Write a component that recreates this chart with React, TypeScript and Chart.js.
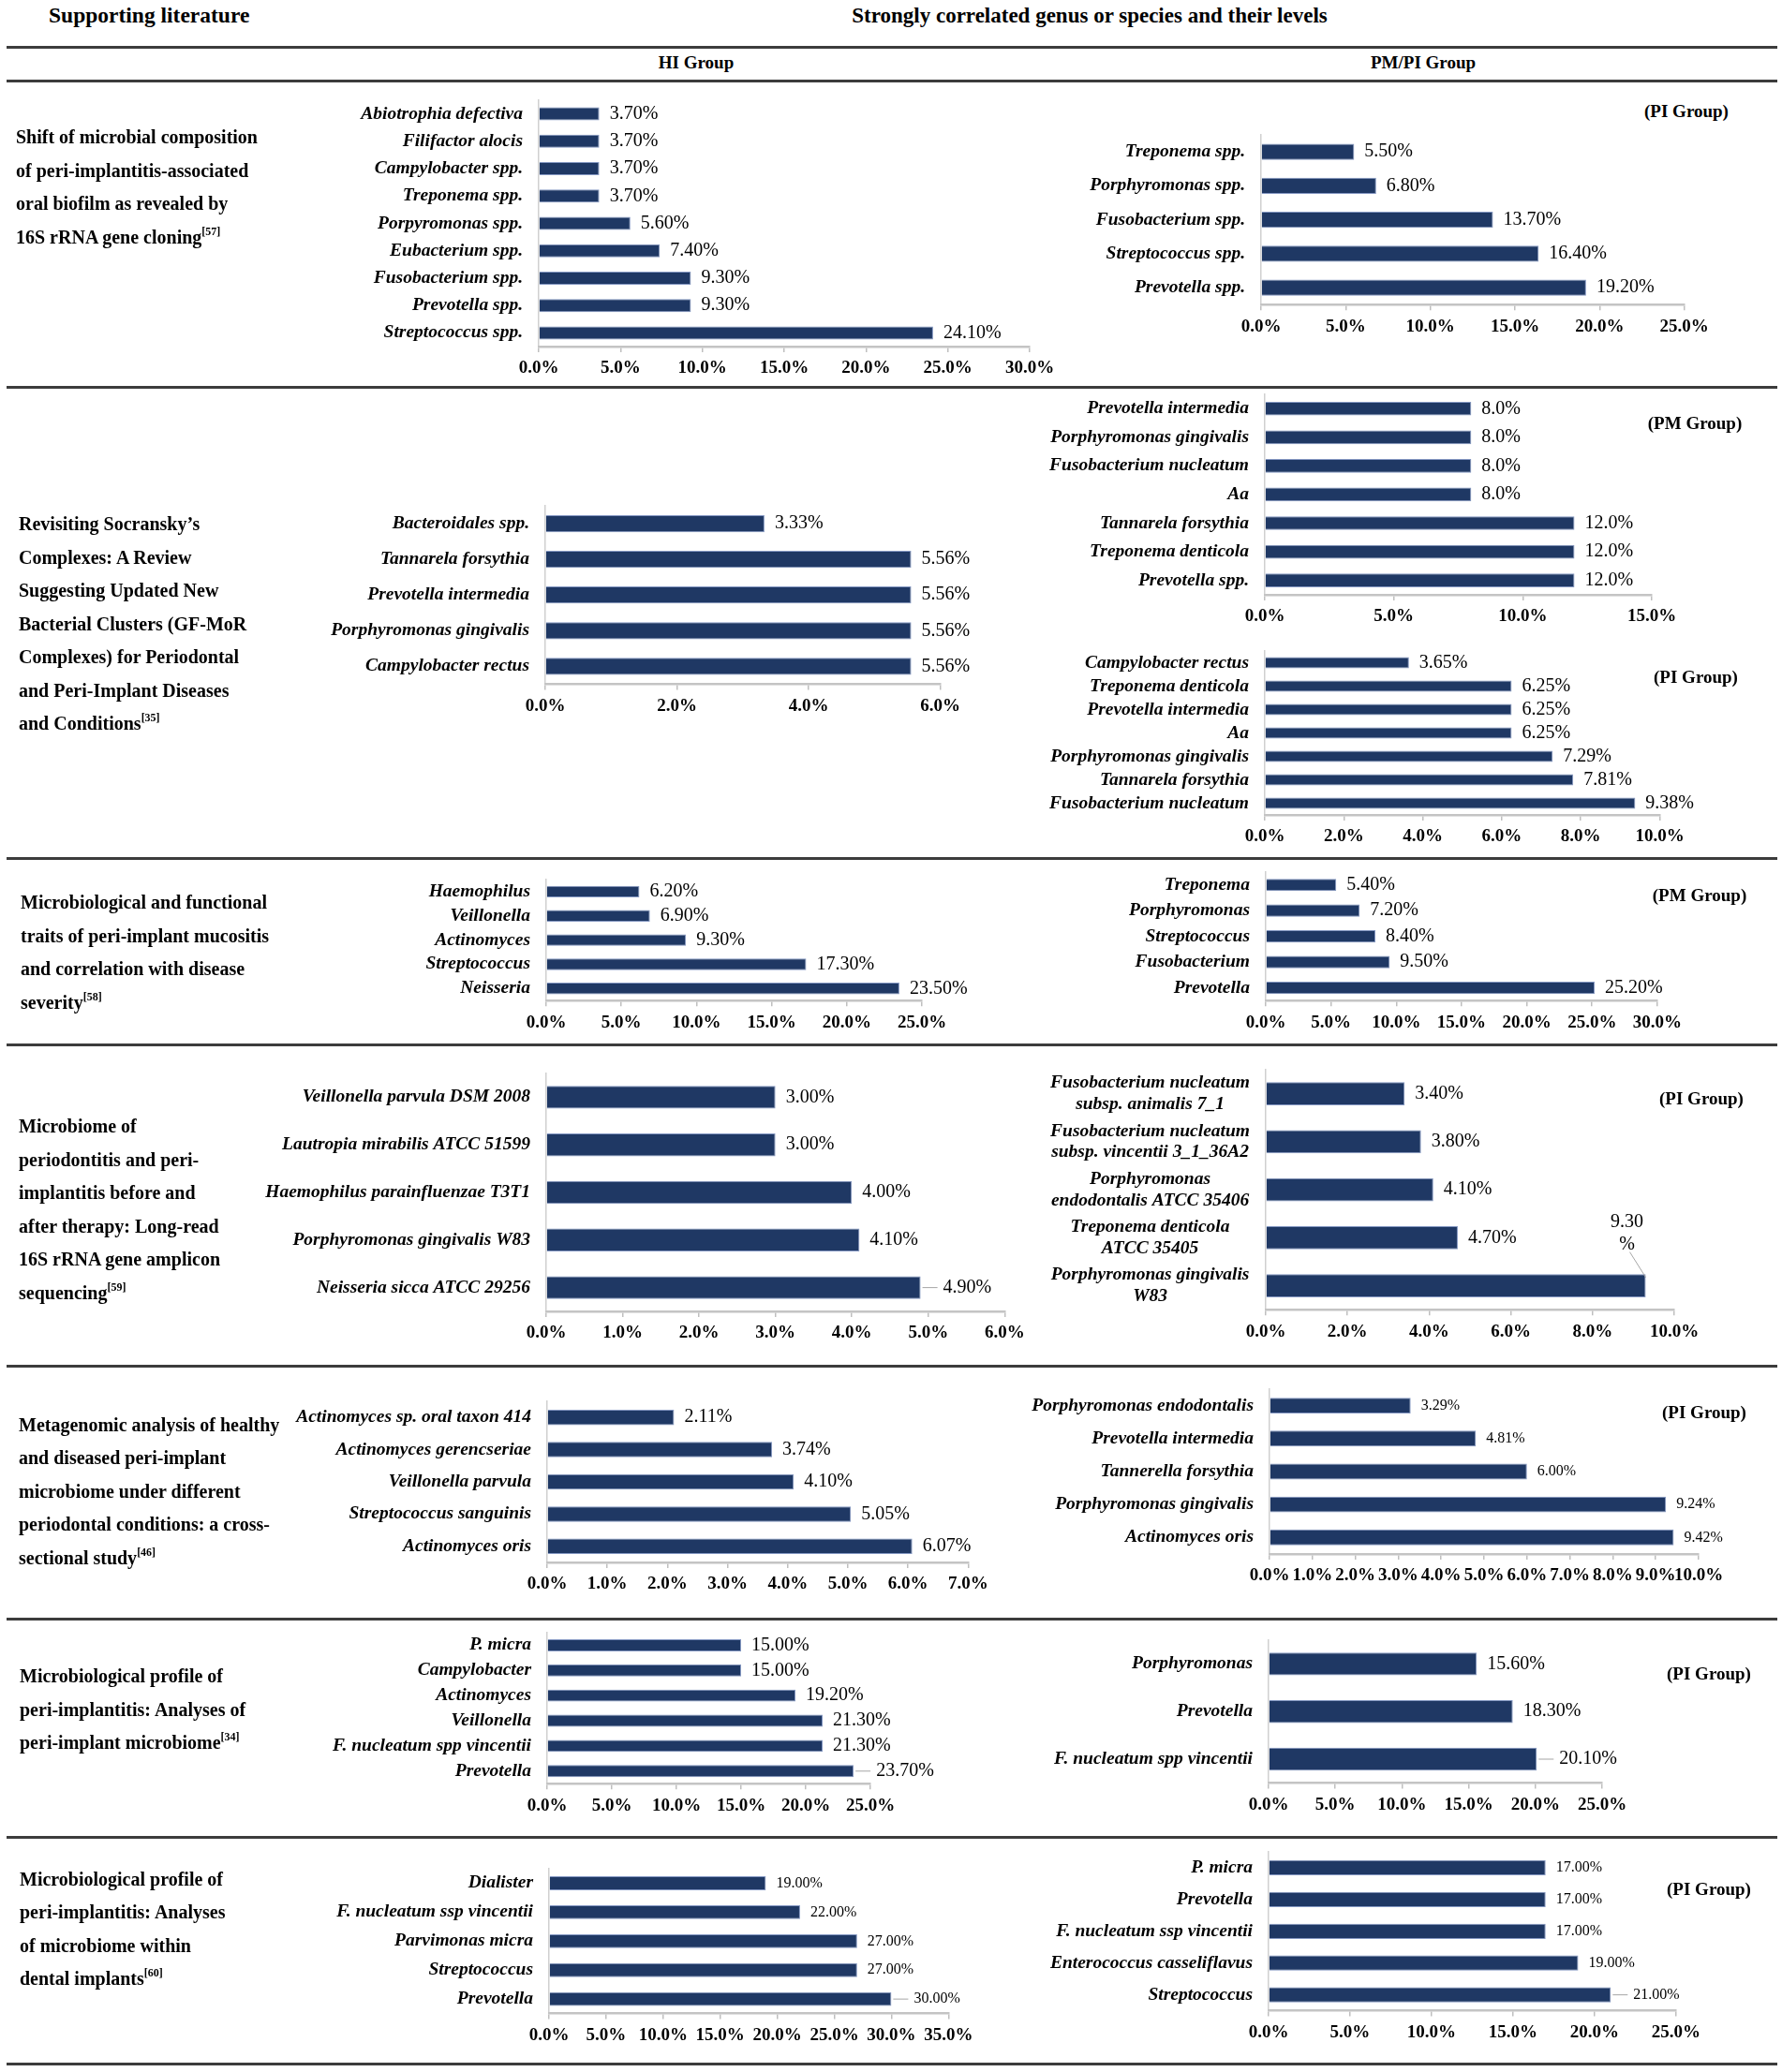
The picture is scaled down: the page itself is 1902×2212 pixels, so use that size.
import React, { useEffect, useRef } from "react";
import { Chart, registerables } from "chart.js";

Chart.register(...registerables);

const FONT = "'Liberation Serif', 'Times New Roman', Times, serif";

// ---------------- DATA ----------------
// Row 1 – 16S rRNA gene cloning
const r1HiLabels = ["Abiotrophia defectiva", "Filifactor alocis", "Campylobacter spp.", "Treponema spp.", "Porpyromonas spp.", "Eubacterium spp.", "Fusobacterium spp.", "Prevotella spp.", "Streptococcus spp."];
const r1HiValues = [3.7, 3.7, 3.7, 3.7, 5.6, 7.4, 9.3, 9.3, 24.1];
const r1PiLabels = ["Treponema spp.", "Porphyromonas spp.", "Fusobacterium spp.", "Streptococcus spp.", "Prevotella spp."];
const r1PiValues = [5.5, 6.8, 13.7, 16.4, 19.2];

// Row 2 – Socransky's complexes
const r2HiLabels = ["Bacteroidales spp.", "Tannarela forsythia", "Prevotella intermedia", "Porphyromonas gingivalis", "Campylobacter rectus"];
const r2HiValues = [3.33, 5.56, 5.56, 5.56, 5.56];
const r2PmLabels = ["Prevotella intermedia", "Porphyromonas gingivalis", "Fusobacterium nucleatum", "Aa", "Tannarela forsythia", "Treponema denticola", "Prevotella spp."];
const r2PmValues = [8, 8, 8, 8, 12, 12, 12];
const r2PiLabels = ["Campylobacter rectus", "Treponema denticola", "Prevotella intermedia", "Aa", "Porphyromonas gingivalis", "Tannarela forsythia", "Fusobacterium nucleatum"];
const r2PiValues = [3.65, 6.25, 6.25, 6.25, 7.29, 7.81, 9.38];

// Row 3 – mucositis traits
const r3HiLabels = ["Haemophilus", "Veillonella", "Actinomyces", "Streptococcus", "Neisseria"];
const r3HiValues = [6.2, 6.9, 9.3, 17.3, 23.5];
const r3PmLabels = ["Treponema", "Porphyromonas", "Streptococcus", "Fusobacterium", "Prevotella"];
const r3PmValues = [5.4, 7.2, 8.4, 9.5, 25.2];

// Row 4 – long-read sequencing
const r4HiLabels = ["Veillonella parvula DSM 2008", "Lautropia mirabilis ATCC 51599", "Haemophilus parainfluenzae T3T1", "Porphyromonas gingivalis W83", "Neisseria sicca ATCC 29256"];
const r4HiValues = [3.0, 3.0, 4.0, 4.1, 4.9];
const r4PiLabels = [
  ["Fusobacterium nucleatum", "subsp. animalis 7_1"],
  ["Fusobacterium nucleatum", "subsp. vincentii 3_1_36A2"],
  ["Porphyromonas", "endodontalis ATCC 35406"],
  ["Treponema denticola", "ATCC 35405"],
  ["Porphyromonas gingivalis", "W83"],
];
const r4PiValues = [3.4, 3.8, 4.1, 4.7, 9.3];

// Row 5 – metagenomic analysis
const r5HiLabels = ["Actinomyces sp. oral taxon 414", "Actinomyces gerencseriae", "Veillonella parvula", "Streptococcus sanguinis", "Actinomyces oris"];
const r5HiValues = [2.11, 3.74, 4.1, 5.05, 6.07];
const r5PiLabels = ["Porphyromonas endodontalis", "Prevotella intermedia", "Tannerella forsythia", "Porphyromonas gingivalis", "Actinomyces oris"];
const r5PiValues = [3.29, 4.81, 6.0, 9.24, 9.42];

// Row 6 – peri-implant microbiome
const r6HiLabels = ["P. micra", "Campylobacter", "Actinomyces", "Veillonella", "F. nucleatum spp vincentii", "Prevotella"];
const r6HiValues = [15.0, 15.0, 19.2, 21.3, 21.3, 23.7];
const r6PiLabels = ["Porphyromonas", "Prevotella", "F. nucleatum spp vincentii"];
const r6PiValues = [15.6, 18.3, 20.1];

// Row 7 – microbiome within dental implants
const r7HiLabels = ["Dialister", "F. nucleatum ssp vincentii", "Parvimonas micra", "Streptococcus", "Prevotella"];
const r7HiValues = [19.0, 22.0, 27.0, 27.0, 30.0];
const r7PiLabels = ["P. micra", "Prevotella", "F. nucleatum ssp vincentii", "Enterococcus casseliflavus", "Streptococcus"];
const r7PiValues = [17.0, 17.0, 17.0, 19.0, 21.0];

// axis ranges [max, step]
const axisR1Hi = [30, 5];
const axisR1Pi = [25, 5];
const axisR2Hi = [6, 2];
const axisR2Pm = [15, 5];
const axisR2Pi = [10, 2];
const axisR3Hi = [25, 5];
const axisR3Pm = [30, 5];
const axisR4Hi = [6, 1];
const axisR4Pi = [10, 2];
const axisR5Hi = [7, 1];
const axisR5Pi = [10, 1];
const axisR6Hi = [25, 5];
const axisR6Pi = [25, 5];
const axisR7Hi = [35, 5];
const axisR7Pi = [25, 5];

// ---------------- LAYOUT ----------------
type Spec = {
  labels: (string | string[])[];
  values: number[];
  axis: number[];
  dec: number;
  x0: number;
  xEnd: number;
  top: number;
  bottom: number;
  labelSize?: number;
  leader?: number[];
  above?: number[];
  center?: boolean;
};

const charts: Spec[] = [
  { labels: r1HiLabels, values: r1HiValues, axis: axisR1Hi, dec: 2, x0: 575, xEnd: 1099, top: 107, bottom: 370 },
  { labels: r1PiLabels, values: r1PiValues, axis: axisR1Pi, dec: 2, x0: 1346, xEnd: 1797.7, top: 144.2, bottom: 325.4 },
  { labels: r2HiLabels, values: r2HiValues, axis: axisR2Hi, dec: 2, x0: 581.5, xEnd: 1003, top: 540.3, bottom: 730.7 },
  { labels: r2PmLabels, values: r2PmValues, axis: axisR2Pm, dec: 1, x0: 1349.5, xEnd: 1762.6, top: 421.4, bottom: 635.3 },
  { labels: r2PiLabels, values: r2PiValues, axis: axisR2Pi, dec: 2, x0: 1349.5, xEnd: 1771, top: 694.8, bottom: 869.8 },
  { labels: r3HiLabels, values: r3HiValues, axis: axisR3Hi, dec: 2, x0: 582.7, xEnd: 983.7, top: 938.5, bottom: 1067.7 },
  { labels: r3PmLabels, values: r3PmValues, axis: axisR3Pm, dec: 2, x0: 1350.7, xEnd: 1768.6, top: 930.5, bottom: 1067.8 },
  { labels: r4HiLabels, values: r4HiValues, axis: axisR4Hi, dec: 2, x0: 582.7, xEnd: 1072, top: 1146.4, bottom: 1400.4, leader: [4] },
  { labels: r4PiLabels, values: r4PiValues, axis: axisR4Pi, dec: 2, x0: 1350.7, xEnd: 1786.8, top: 1141.5, bottom: 1397.8, above: [4], center: true },
  { labels: r5HiLabels, values: r5HiValues, axis: axisR5Hi, dec: 2, x0: 583.9, xEnd: 1033.3, top: 1496, bottom: 1668 },
  { labels: r5PiLabels, values: r5PiValues, axis: axisR5Pi, dec: 2, x0: 1355, xEnd: 1813, top: 1483.4, bottom: 1659.3, labelSize: 16 },
  { labels: r6HiLabels, values: r6HiValues, axis: axisR6Hi, dec: 2, x0: 583.9, xEnd: 929, top: 1743.2, bottom: 1904.4, leader: [5] },
  { labels: r6PiLabels, values: r6PiValues, axis: axisR6Pi, dec: 2, x0: 1354.4, xEnd: 1710.5, top: 1751.3, bottom: 1903.7, leader: [2] },
  { labels: r7HiLabels, values: r7HiValues, axis: axisR7Hi, dec: 2, x0: 586, xEnd: 1012.3, top: 1995.2, bottom: 2149.8, labelSize: 16, leader: [4] },
  { labels: r7PiLabels, values: r7PiValues, axis: axisR7Pi, dec: 2, x0: 1354.4, xEnd: 1789.3, top: 1977.4, bottom: 2147, labelSize: 16, leader: [4] },
];

const rowLines = [50.5, 86.5, 413, 916.5, 1115.5, 1458.5, 1728, 1961.5, 2203];

const litTexts: { left: number; first: number; lines: [string, string?][] }[] = [
  { left: 17, first: 147, lines: [["Shift of microbial composition"], ["of peri-implantitis-associated"], ["oral biofilm as revealed by"], ["16S rRNA gene cloning", "[57]"]] },
  { left: 20, first: 560, lines: [["Revisiting Socransky\u2019s"], ["Complexes: A Review"], ["Suggesting Updated New"], ["Bacterial Clusters (GF-MoR"], ["Complexes) for Periodontal"], ["and Peri-Implant Diseases"], ["and Conditions", "[35]"]] },
  { left: 22, first: 964, lines: [["Microbiological and functional"], ["traits of peri-implant mucositis"], ["and correlation with disease"], ["severity", "[58]"]] },
  { left: 20, first: 1203, lines: [["Microbiome of"], ["periodontitis and peri-"], ["implantitis before and"], ["after therapy: Long-read"], ["16S rRNA gene amplicon"], ["sequencing", "[59]"]] },
  { left: 20, first: 1521.7, lines: [["Metagenomic analysis of healthy"], ["and diseased peri-implant"], ["microbiome under different"], ["periodontal conditions: a cross-"], ["sectional study", "[46]"]] },
  { left: 21, first: 1790, lines: [["Microbiological profile of"], ["peri-implantitis: Analyses of"], ["peri-implant microbiome", "[34]"]] },
  { left: 21, first: 2006.7, lines: [["Microbiological profile of"], ["peri-implantitis: Analyses"], ["of microbiome within"], ["dental implants", "[60]"]] },
];

const groupTags: { text: string; x: number; y: number }[] = [
  { text: "(PI Group)", x: 1800, y: 119 },
  { text: "(PM Group)", x: 1809, y: 451.7 },
  { text: "(PI Group)", x: 1810, y: 723 },
  { text: "(PM Group)", x: 1814, y: 956 },
  { text: "(PI Group)", x: 1816, y: 1173 },
  { text: "(PI Group)", x: 1819, y: 1508 },
  { text: "(PI Group)", x: 1824, y: 1786.7 },
  { text: "(PI Group)", x: 1824, y: 2016.7 },
];

const AXW = 380;
const TP = 10;
const XH = 48;
const RPMIN = 95;

function makeLabelPlugin(spec: Spec) {
  return {
    id: "barValueLabels",
    afterDatasetsDraw(chart: any) {
      const ctx = chart.ctx as CanvasRenderingContext2D;
      const meta = chart.getDatasetMeta(0);
      const size = spec.labelSize ?? 20;
      ctx.save();
      ctx.font = `normal ${size}px ${FONT}`;
      ctx.fillStyle = "#000";
      ctx.textBaseline = "middle";
      meta.data.forEach((bar: any, i: number) => {
        const txt = spec.values[i].toFixed(spec.dec) + "%";
        const x = bar.x;
        const y = bar.y;
        if (spec.above && spec.above.includes(i)) {
          ctx.textAlign = "center";
          ctx.fillText(txt.replace("%", ""), x - 20, y - 68);
          ctx.fillText("%", x - 20, y - 43.5);
          ctx.strokeStyle = "#a6a6a6";
          ctx.lineWidth = 1;
          ctx.beginPath();
          ctx.moveTo(x - 17, y - 36);
          ctx.lineTo(x, y - 9);
          ctx.stroke();
        } else if (spec.leader && spec.leader.includes(i)) {
          ctx.strokeStyle = "#a6a6a6";
          ctx.lineWidth = 1;
          ctx.beginPath();
          ctx.moveTo(x + 2, y);
          ctx.lineTo(x + 18, y);
          ctx.stroke();
          ctx.textAlign = "left";
          ctx.fillText(txt, x + 24, y);
        } else {
          ctx.textAlign = "left";
          ctx.fillText(txt, x + 11, y);
        }
      });
      ctx.restore();
    },
  };
}

function BarChart({ spec }: { spec: Spec }) {
  const ref = useRef<HTMLCanvasElement>(null);
  const plotW = spec.xEnd - spec.x0;
  const left = spec.x0 - AXW;
  const width = Math.ceil(AXW + plotW + RPMIN);
  const rp = width - AXW - plotW;
  const top = spec.top - TP;
  const height = Math.round(spec.bottom - top + XH);
  const bottomPad = height - XH - (spec.bottom - top);

  useEffect(() => {
    const canvas = ref.current;
    if (!canvas) return;
    const [max, step] = spec.axis;
    const chart = new Chart(canvas, {
      type: "bar",
      data: {
        labels: spec.labels as any,
        datasets: [
          {
            data: spec.values,
            backgroundColor: "#1f3864",
            borderColor: "#8497c2",
            borderWidth: 1,
            barPercentage: 0.48,
            categoryPercentage: 1,
          },
        ],
      },
      options: {
        indexAxis: "y",
        animation: false,
        responsive: false,
        devicePixelRatio: 1,
        layout: { padding: { left: 0, right: rp, top: TP, bottom: bottomPad } },
        plugins: { legend: { display: false }, tooltip: { enabled: false } },
        scales: {
          y: {
            type: "category",
            grid: { display: false, drawTicks: false },
            border: { display: true, color: "#d0d0d0", width: 1.5 },
            ticks: {
              color: "#000",
              padding: 17,
              crossAlign: spec.center ? "center" : "near",
              font: { family: FONT, size: 19.5, style: "italic", weight: "bold", lineHeight: 1.17 },
              autoSkip: false,
            },
            afterFit: (s: any) => {
              s.width = AXW;
              s.paddingTop = 0;
              s.paddingBottom = 0;
            },
          },
          x: {
            type: "linear",
            min: 0,
            max,
            grid: { display: true, drawOnChartArea: false, drawTicks: true, tickLength: 6, color: "#bfbfbf", lineWidth: 1.5 },
            border: { display: true, color: "#c4c4c4", width: 2.5 },
            ticks: {
              stepSize: step,
              autoSkip: false,
              maxRotation: 0,
              minRotation: 0,
              padding: 6,
              color: "#000",
              font: { family: FONT, size: 19, weight: "bold" },
              callback: (v: any) => Number(v).toFixed(1) + "%",
            },
            afterFit: (s: any) => {
              s.height = XH;
              s.paddingLeft = 0;
              s.paddingRight = 0;
            },
          },
        },
      },
      plugins: [makeLabelPlugin(spec)],
    });
    return () => chart.destroy();
  }, []);

  return (
    <canvas
      ref={ref}
      width={width}
      height={height}
      style={{ position: "absolute", left, top, width, height }}
    />
  );
}

const textBase: React.CSSProperties = {
  position: "absolute",
  fontFamily: FONT,
  fontWeight: "bold",
  color: "#000",
  whiteSpace: "nowrap",
};

export default function App() {
  const LH = 35.5;
  return (
    <div style={{ position: "absolute", left: 0, top: 0, width: 1902, height: 2212, background: "#fff", overflow: "hidden" }}>
      {charts.map((c, i) => (
        <BarChart key={i} spec={c} />
      ))}
      {rowLines.map((y, i) => (
        <div key={"l" + i} style={{ position: "absolute", left: 7, width: 1890, top: y - 1.5, height: 3, background: "#3c3c3c" }} />
      ))}
      <div style={{ ...textBase, left: 52, top: 16 - 14, fontSize: 23.5, lineHeight: "28px" }}>Supporting literature</div>
      <div style={{ ...textBase, left: 1163, top: 17 - 14, fontSize: 23, lineHeight: "28px", transform: "translateX(-50%)" }}>
        Strongly correlated genus or species and their levels
      </div>
      <div style={{ ...textBase, left: 743, top: 67 - 11, fontSize: 19, lineHeight: "22px", transform: "translateX(-50%)" }}>HI Group</div>
      <div style={{ ...textBase, left: 1519, top: 67 - 11, fontSize: 19, lineHeight: "22px", transform: "translateX(-50%)" }}>PM/PI Group</div>
      {litTexts.map((t, i) => (
        <div key={"t" + i} style={{ ...textBase, left: t.left, top: t.first - LH / 2, fontSize: 20, lineHeight: LH + "px" }}>
          {t.lines.map((ln, j) => (
            <div key={j}>
              {ln[0]}
              {ln[1] ? (
                <span style={{ fontSize: 12, verticalAlign: "top", lineHeight: "22px" }}>{ln[1]}</span>
              ) : null}
            </div>
          ))}
        </div>
      ))}
      {groupTags.map((g, i) => (
        <div key={"g" + i} style={{ ...textBase, left: g.x, top: g.y - 12, fontSize: 19, lineHeight: "24px", transform: "translateX(-50%)" }}>
          {g.text}
        </div>
      ))}
    </div>
  );
}
